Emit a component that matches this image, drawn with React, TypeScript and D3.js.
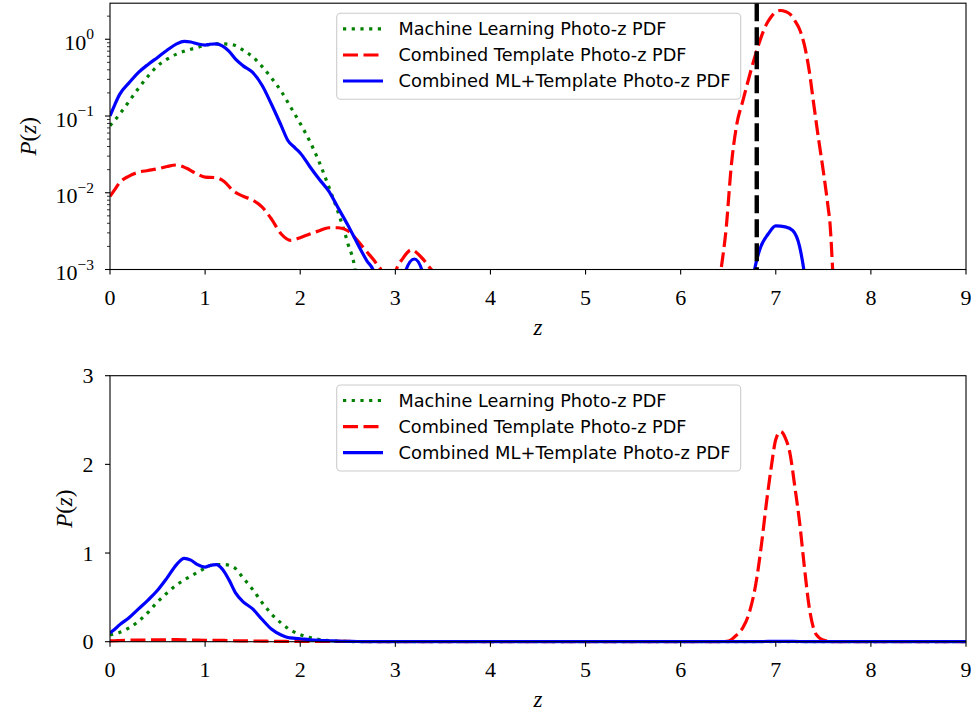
import React from 'react';
import * as d3 from 'd3';

// ---------- data ----------
const mlZ = [0.0, 0.1, 0.2, 0.3, 0.4, 0.5, 0.6, 0.7, 0.8, 0.9, 1.0, 1.1, 1.2, 1.3, 1.4, 1.5, 1.6, 1.7, 1.8, 1.9, 2.0, 2.1, 2.2, 2.3, 2.4, 2.5, 2.58, 2.63, 3.0, 5.0, 7.0, 9.0];
const mlP = [0.075, 0.105, 0.155, 0.23, 0.33, 0.45, 0.55, 0.64, 0.71, 0.77, 0.83, 0.87, 0.87, 0.84, 0.72, 0.59, 0.44, 0.31, 0.21, 0.13, 0.08, 0.047, 0.025, 0.012, 0.0055, 0.0022, 0.0009, 0.0002, 0.0001, 0.0001, 0.0001, 0.0001];

const tmplZ = [0.0, 0.05, 0.1, 0.2, 0.3, 0.4, 0.5, 0.6, 0.7, 0.8, 0.9, 1.0, 1.1, 1.2, 1.3, 1.4, 1.5, 1.6, 1.7, 1.8, 1.9, 2.0, 2.1, 2.2, 2.3, 2.4, 2.5, 2.6, 2.7, 2.8, 2.86, 2.92, 2.96, 3.0, 3.08, 3.17, 3.26, 3.35, 3.42, 3.47, 6.35, 6.42, 6.48, 6.53, 6.585, 6.655, 6.725, 6.79, 6.85, 6.9, 6.95, 7.0, 7.05, 7.1, 7.15, 7.2, 7.25, 7.3, 7.35, 7.4, 7.45, 7.5, 7.55, 7.57, 7.6, 7.63, 9.0];
const tmplP = [0.009, 0.011, 0.0135, 0.0165, 0.0185, 0.0195, 0.0205, 0.022, 0.023, 0.021, 0.018, 0.016, 0.0158, 0.014, 0.0105, 0.009, 0.008, 0.0065, 0.0045, 0.0029, 0.0024, 0.0026, 0.0029, 0.0032, 0.0035, 0.0035, 0.0032, 0.0024, 0.0017, 0.0012, 0.0009, 0.0002, 0.0002, 0.0009, 0.0014, 0.0018, 0.0015, 0.0011, 0.0008, 0.0002, 0.0002, 0.0009, 0.0036, 0.021, 0.072, 0.16, 0.34, 0.65, 1.1, 1.55, 1.95, 2.28, 2.37, 2.3, 2.12, 1.75, 1.35, 0.85, 0.4, 0.14, 0.05, 0.019, 0.0065, 0.004, 0.0009, 0.0002, 0.0002];

const combZ = [0.0, 0.05, 0.1, 0.2, 0.3, 0.4, 0.5, 0.6, 0.7, 0.78, 0.85, 0.92, 1.0, 1.05, 1.12, 1.18, 1.25, 1.32, 1.4, 1.5, 1.6, 1.7, 1.8, 1.87, 1.95, 2.0, 2.1, 2.2, 2.3, 2.4, 2.5, 2.6, 2.7, 2.78, 2.85, 3.05, 3.1, 3.2, 3.29, 3.35, 6.7, 6.77, 6.83, 6.92, 7.0, 7.1, 7.18, 7.25, 7.3, 7.36, 9.0];
const combP = [0.1, 0.14, 0.19, 0.27, 0.37, 0.47, 0.58, 0.72, 0.87, 0.94, 0.92, 0.87, 0.84, 0.86, 0.87, 0.82, 0.7, 0.55, 0.45, 0.37, 0.25, 0.14, 0.075, 0.048, 0.038, 0.033, 0.022, 0.015, 0.0105, 0.0063, 0.0038, 0.0022, 0.0013, 0.0009, 0.0002, 0.0002, 0.0009, 0.00137, 0.0009, 0.0002, 0.0002, 0.0009, 0.0018, 0.0029, 0.0037, 0.0036, 0.0032, 0.002, 0.0009, 0.0002, 0.0002];

const zMarker = 6.8;

const xTicks = [0, 1, 2, 3, 4, 5, 6, 7, 8, 9];
const logTicks = [1e-3, 1e-2, 1e-1, 1];
const logTickExp = ['−3', '−2', '−1', '0'];
const linTicks = [0, 1, 2, 3];

const legendLabels = [
  'Machine Learning Photo-z PDF',
  'Combined Template Photo-z PDF',
  'Combined ML+Template Photo-z PDF',
];
const legendWidths = [268, 288, 332];

// ---------- layout ----------
const W = 971;
const H = 713;
const X0 = 110;
const X1 = 966;
const TOP = { y0: 3.2, y1: 269.5 };
const BOT = { y0: 375.7, y1: 641.7 };

const serif = '"Liberation Serif", "DejaVu Serif", serif';
const sans = '"DejaVu Sans", "Liberation Sans", sans-serif';

const styles = [
  { color: '#008000', dash: '3.2,5.5', width: 3.2 },
  { color: '#ff0000', dash: '15,5.5', width: 3.2 },
  { color: '#0000ff', dash: undefined as string | undefined, width: 3.2 },
];

const series = [
  { z: mlZ, p: mlP },
  { z: tmplZ, p: tmplP },
  { z: combZ, p: combP },
];

function Legend({ y }: { y: number }) {
  const bx = 336.7;
  const bw = 404;
  const bh = 86;
  const rows = [15.5, 41.7, 67.7];
  return (
    <g>
      <rect x={bx} y={y} width={bw} height={bh} rx={4} ry={4} fill="white" fillOpacity={0.8} stroke="#cccccc" strokeWidth={1.1} />
      {legendLabels.map((lab, i) => (
        <g key={lab}>
          <line x1={343} x2={383} y1={y + rows[i]} y2={y + rows[i]} stroke={styles[i].color} strokeWidth={styles[i].width} strokeDasharray={styles[i].dash} />
          <text x={398.5} y={y + rows[i] + 6} fontFamily={sans} fontSize={17} fill="#000" textLength={legendWidths[i]} lengthAdjust="spacingAndGlyphs">{lab}</text>
        </g>
      ))}
    </g>
  );
}

export default function App() {
  const x = d3.scaleLinear().domain([0, 9]).range([X0, X1]);
  const yLog = d3.scaleLog().domain([1e-3, 2.95]).range([TOP.y1, TOP.y0]);
  const yLin = d3.scaleLinear().domain([0, 3]).range([BOT.y1, BOT.y0]);

  const makeLine = (ys: (v: number) => number) =>
    d3.line<[number, number]>().x((d) => x(d[0])).y((d) => ys(d[1])).curve(d3.curveMonotoneX);

  const lineLog = makeLine((v) => yLog(v));
  const lineLin = makeLine((v) => yLin(v));

  const minor: number[] = [];
  for (let k = -3; k <= 0; k++) {
    for (let m = 2; m <= 9; m++) {
      const v = m * Math.pow(10, k);
      if (v > 1e-3 && v <= 2.95) minor.push(v);
    }
  }

  const xAxis = (yb: number, key: string) => (
    <g key={key}>
      {xTicks.map((t) => (
        <g key={t}>
          <line x1={x(t)} x2={x(t)} y1={yb} y2={yb + 5} stroke="#000" strokeWidth={1.1} />
          <text x={x(t)} y={yb + 35} textAnchor="middle" fontFamily={serif} fontSize={22}>{t}</text>
        </g>
      ))}
      <text x={(X0 + X1) / 2} y={yb + 65.5} textAnchor="middle" fontFamily={serif} fontStyle="italic" fontSize={23}>z</text>
    </g>
  );

  const pLabel = (cx: number, cy: number) => (
    <text transform={`translate(${cx},${cy}) rotate(-90)`} textAnchor="middle" fontFamily={serif} fontSize={23}>
      <tspan fontStyle="italic">P</tspan>(<tspan fontStyle="italic">z</tspan>)
    </text>
  );

  return (
    <svg width={W} height={H} style={{ position: 'absolute', left: 0, top: 0, background: '#fff' }}>
      <defs>
        <clipPath id="clipTop">
          <rect x={X0} y={TOP.y0} width={X1 - X0} height={TOP.y1 - TOP.y0} />
        </clipPath>
        <clipPath id="clipBot">
          <rect x={X0} y={BOT.y0} width={X1 - X0} height={BOT.y1 - BOT.y0 + 2} />
        </clipPath>
      </defs>
      <rect x={0} y={0} width={W} height={H} fill="#fff" />

      {/* ---------- top panel (log) ---------- */}
      <g clipPath="url(#clipTop)">
        {series.map((s, i) => (
          <path key={i} d={lineLog(s.z.map((z, j) => [z, s.p[j]] as [number, number])) || ''} fill="none" stroke={styles[i].color} strokeWidth={styles[i].width} strokeDasharray={styles[i].dash} />
        ))}
        <line x1={x(zMarker)} x2={x(zMarker)} y1={TOP.y0} y2={TOP.y1} stroke="#000" strokeWidth={4.4} strokeDasharray="18,6" />
      </g>
      <rect x={X0} y={TOP.y0} width={X1 - X0} height={TOP.y1 - TOP.y0} fill="none" stroke="#000" strokeWidth={1.1} />
      {logTicks.map((t, i) => (
        <g key={t}>
          <line x1={X0 - 5} x2={X0} y1={yLog(t)} y2={yLog(t)} stroke="#000" strokeWidth={1.1} />
          <text x={94} y={yLog(t) + 10.5} textAnchor="end" fontFamily={serif} fontSize={22}>
            10<tspan dy={-10.5} fontSize={15.5}>{logTickExp[i]}</tspan>
          </text>
        </g>
      ))}
      {minor.map((t) => (
        <line key={t} x1={X0 - 3} x2={X0} y1={yLog(t)} y2={yLog(t)} stroke="#000" strokeWidth={0.8} />
      ))}
      {xAxis(TOP.y1, 'xt')}
      {pLabel(36, (TOP.y0 + TOP.y1) / 2)}
      <Legend y={13.3} />

      {/* ---------- bottom panel (linear) ---------- */}
      <g clipPath="url(#clipBot)">
        {series.map((s, i) => (
          <path key={i} d={lineLin(s.z.map((z, j) => [z, s.p[j]] as [number, number])) || ''} fill="none" stroke={styles[i].color} strokeWidth={styles[i].width} strokeDasharray={styles[i].dash} />
        ))}
      </g>
      <rect x={X0} y={BOT.y0} width={X1 - X0} height={BOT.y1 - BOT.y0} fill="none" stroke="#000" strokeWidth={1.1} />
      {linTicks.map((t) => (
        <g key={t}>
          <line x1={X0 - 5} x2={X0} y1={yLin(t)} y2={yLin(t)} stroke="#000" strokeWidth={1.1} />
          <text x={93.5} y={yLin(t) + 7.5} textAnchor="end" fontFamily={serif} fontSize={22}>{t}</text>
        </g>
      ))}
      {xAxis(BOT.y1, 'xb')}
      {pLabel(72, (BOT.y0 + BOT.y1) / 2)}
      <Legend y={385} />
    </svg>
  );
}
